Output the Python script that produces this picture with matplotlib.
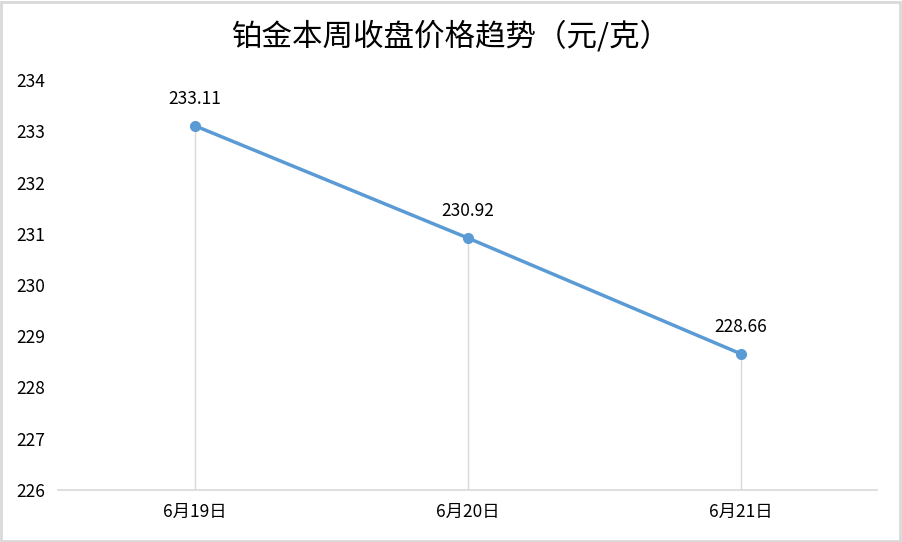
import matplotlib
matplotlib.use('Agg')
import matplotlib.pyplot as plt
from matplotlib.patches import Rectangle

plt.rcParams['font.family'] = ['Noto Sans CJK SC', 'DejaVu Sans']

# data
dates = ['6月19日', '6月20日', '6月21日']
prices = [233.11, 230.92, 228.66]
y_ticks = [226, 227, 228, 229, 230, 231, 232, 233, 234]

LINE = '#5B9BD5'
GRAY = '#D9D9D9'

fig = plt.figure(figsize=(9.02, 5.42), dpi=100)
ax = fig.add_axes([58 / 902, 1 - 490 / 542, 819 / 902, 410 / 542])

x = list(range(len(dates)))

# drop lines from each point to the axis
ax.vlines(x, y_ticks[0], prices, color=GRAY, lw=1.0, zorder=1)
ax.plot(x, prices, color=LINE, lw=2.5, marker='o', ms=7, zorder=3)

for xi, p in zip(x, prices):
    ax.annotate(f'{p:.2f}', (xi, p), xytext=(0, 19.5), textcoords='offset points',
                ha='center', va='center', fontsize=12.5, color='#000000')

ax.set_xlim(-0.5, len(dates) - 0.5)
ax.set_ylim(y_ticks[0], y_ticks[-1])
ax.set_xticks(x)
ax.set_xticklabels(dates)
ax.set_yticks(y_ticks)

for s in ['top', 'right', 'left']:
    ax.spines[s].set_visible(False)
ax.spines['bottom'].set_color(GRAY)
ax.spines['bottom'].set_linewidth(1.2)

ax.tick_params(axis='both', length=0, labelsize=12.5, colors='#000000')
ax.tick_params(axis='y', pad=9)
ax.tick_params(axis='x', pad=9)

fig.text(0.5, 1 - 37 / 542, '铂金本周收盘价格趋势（元/克）', ha='center', va='center',
         fontsize=22, color='#000000')

# outer border
fig.patches.append(Rectangle((0.001, 0.002), 0.997, 0.995, transform=fig.transFigure,
                             fill=False, edgecolor=GRAY, lw=2))

fig.savefig('out.png', dpi=100)
